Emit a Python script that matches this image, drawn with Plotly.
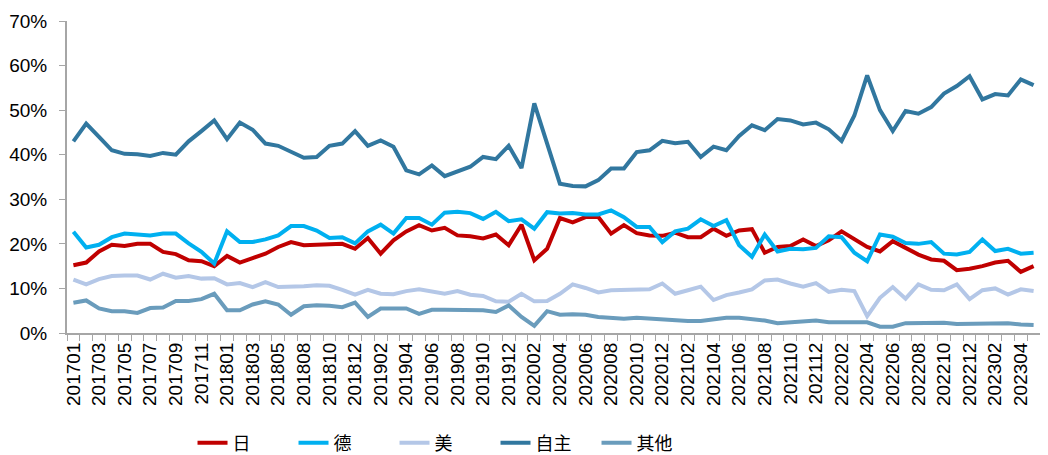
import plotly.graph_objects as go

months = [
    "201701", "201702", "201703", "201704", "201705", "201706", "201707", "201708",
    "201709", "201710", "201711", "201712",
    "201801", "201802", "201803", "201804", "201805", "201806", "201808", "201809",
    "201810", "201811", "201812",
    "201901", "201902", "201903", "201904", "201905", "201906", "201907", "201908",
    "201909", "201910", "201911", "201912",
    "202001", "202002", "202003", "202004", "202005", "202006", "202007", "202008",
    "202009", "202010", "202011", "202012",
    "202101", "202102", "202103", "202104", "202105", "202106", "202107", "202108",
    "202109", "202110", "202111", "202112",
    "202201", "202202", "202203", "202204", "202205", "202206", "202207", "202208",
    "202209", "202210", "202211", "202212",
    "202301", "202302", "202303", "202304", "202305",
]

japan = [
    15.2, 15.8, 18.3, 19.8, 19.5, 20.0, 20.0, 18.2, 17.7, 16.3, 16.1, 15.0,
    17.3, 15.8, 16.8, 17.8, 19.3, 20.4, 19.7, 19.8, 19.7, 20.0, 18.9,
    21.3, 17.8, 20.8, 22.8, 24.2, 23.0, 23.6, 21.9, 21.7, 21.2, 22.1, 19.7,
    24.3, 16.3, 18.9, 25.8, 24.8, 26.0, 26.0, 22.3, 24.2, 22.4, 21.9, 21.8,
    22.5, 21.5, 21.5, 23.4, 21.8, 23.0, 23.3, 18.0, 19.3, 19.5, 21.0, 19.5,
    20.8, 22.8, 21.0, 19.3, 18.3, 20.6, 19.1, 17.6, 16.5, 16.2, 14.1, 14.4,
    15.0, 15.8, 16.2, 13.7, 15.0,
]
germany = [
    22.7, 19.2, 19.8, 21.5, 22.3, 22.1, 21.9, 22.3, 22.3, 20.1, 18.2, 15.6,
    22.8, 20.4, 20.4, 21.0, 21.9, 24.0, 24.0, 23.0, 21.3, 21.5, 20.1,
    22.8, 24.3, 22.3, 25.8, 25.8, 24.3, 27.0, 27.2, 26.9, 25.6, 27.2, 25.1,
    25.5, 23.4, 27.1, 26.8, 26.9, 26.6, 26.6, 27.5, 26.0, 23.8, 23.8, 20.4,
    22.8, 23.4, 25.5, 24.0, 25.3, 19.7, 17.1, 22.1, 18.3, 18.9, 18.8, 19.1,
    21.7, 21.5, 18.0, 16.1, 22.1, 21.6, 20.2, 20.0, 20.4, 17.8, 17.6, 18.2,
    21.0, 18.4, 18.9, 17.8, 18.0,
]
usa = [
    12.0, 10.9, 12.1, 12.8, 12.9, 12.9, 12.0, 13.3, 12.4, 12.8, 12.2, 12.3,
    10.9, 11.2, 10.3, 11.4, 10.3, 10.3, 10.5, 10.7, 10.6, 9.7, 8.6,
    9.7, 8.8, 8.7, 9.4, 9.8, 9.4, 8.8, 9.4, 8.6, 8.3, 7.1, 7.0,
    8.8, 7.1, 7.2, 8.8, 10.9, 10.1, 9.1, 9.6, 9.6, 9.6, 9.8, 11.1,
    8.8, 9.6, 10.4, 7.4, 8.5, 9.1, 9.8, 11.8, 12.0, 11.1, 10.4, 11.2,
    9.2, 9.7, 9.4, 3.8, 7.9, 10.3, 7.7, 10.9, 9.7, 9.6, 10.9, 7.6,
    9.6, 10.0, 8.6, 9.8, 9.4,
]
domestic = [
    43.0, 47.0, 44.0, 41.0, 40.2, 40.1, 39.7, 40.4, 40.0, 43.0, 45.3, 47.7,
    43.5, 47.2, 45.6, 42.5, 42.0, 40.6, 39.3, 39.5, 42.0, 42.5, 45.3,
    42.0, 43.2, 41.8, 36.5, 35.6, 37.6, 35.2, 36.3, 37.3, 39.5, 39.0, 42.0,
    37.0, 51.5, 42.5, 33.5, 33.0, 32.9, 34.3, 36.9, 36.9, 40.6, 41.0, 43.1,
    42.6, 42.9, 39.5, 41.8, 41.0, 44.2, 46.6, 45.5, 48.0, 47.7, 46.8, 47.2,
    45.7, 43.1, 48.8, 57.8, 50.0, 45.3, 49.8, 49.2, 50.7, 53.7, 55.4, 57.6,
    52.4, 53.6, 53.3, 56.9, 55.6,
]
other = [
    6.8, 7.3, 5.5, 4.9, 4.9, 4.5, 5.6, 5.7, 7.2, 7.2, 7.6, 8.8,
    5.1, 5.1, 6.4, 7.1, 6.4, 4.1, 6.0, 6.2, 6.1, 5.8, 6.8,
    3.6, 5.5, 5.5, 5.5, 4.3, 5.2, 5.2, 5.2, 5.3, 5.1, 4.7, 6.2,
    3.6, 1.6, 4.9, 4.1, 4.2, 4.1, 3.6, 3.4, 3.2, 3.4, 3.2, 3.1,
    3.0, 2.7, 2.7, 3.0, 3.4, 3.4, 3.1, 2.8, 2.2, 2.4, 2.8, 2.8,
    2.4, 2.4, 2.3, 2.4, 1.4, 1.4, 2.2, 2.2, 2.4, 2.3, 2.0, 2.0,
    2.0, 2.0, 2.2, 1.9, 1.8,
]

series = [
    ("日", japan, "#C00000"),
    ("德", germany, "#00B0F0"),
    ("美", usa, "#B4C7E7"),
    ("自主", domestic, "#31779F"),
    ("其他", other, "#6A9CBC"),
]

AXIS_COLOR = "#A6A6A6"
FONT = "Liberation Sans, Arial, Noto Sans CJK SC, sans-serif"

fig = go.Figure()
for name, values, color in series:
    fig.add_trace(
        go.Scatter(
            x=months,
            y=values,
            mode="lines",
            name=name,
            line=dict(color=color, width=4),
        )
    )

# label every other month, tick mark on every category boundary
tick_text = [m if i % 2 == 0 else "" for i, m in enumerate(months)]

# the page body adds an 8px offset; the figure is made a bit taller than the
# window so the legend sits low without pushing the plot margins
fig.update_layout(
    width=1040,
    height=470,
    template="plotly_white",
    font=dict(family=FONT, size=18, color="#000000"),
    margin=dict(l=59, r=8, t=13, b=145),
    showlegend=True,
    legend=dict(
        orientation="h",
        x=0.129,
        xanchor="left",
        y=-0.353,
        yanchor="middle",
        font=dict(size=18, family="Noto Sans CJK SC, sans-serif"),
        entrywidth=56,
        traceorder="normal",
    ),
    xaxis=dict(
        type="category",
        range=[-0.5, len(months) - 0.5],
        tickvals=months,
        ticktext=tick_text,
        tickangle=-90,
        tickson="boundaries",
        ticks="outside",
        ticklen=6,
        tickcolor=AXIS_COLOR,
        showline=True,
        linecolor=AXIS_COLOR,
        linewidth=2,
        showgrid=False,
        zeroline=False,
        automargin=False,
        tickfont=dict(size=19),
    ),
    yaxis=dict(
        range=[0, 70],
        dtick=10,
        ticksuffix="%",
        ticks="outside",
        ticklen=6,
        tickcolor=AXIS_COLOR,
        showline=True,
        linecolor=AXIS_COLOR,
        linewidth=2,
        showgrid=False,
        zeroline=False,
        automargin=False,
        ticklabelstandoff=8,
        tickfont=dict(size=19),
    ),
)

fig.write_html("out.html")
